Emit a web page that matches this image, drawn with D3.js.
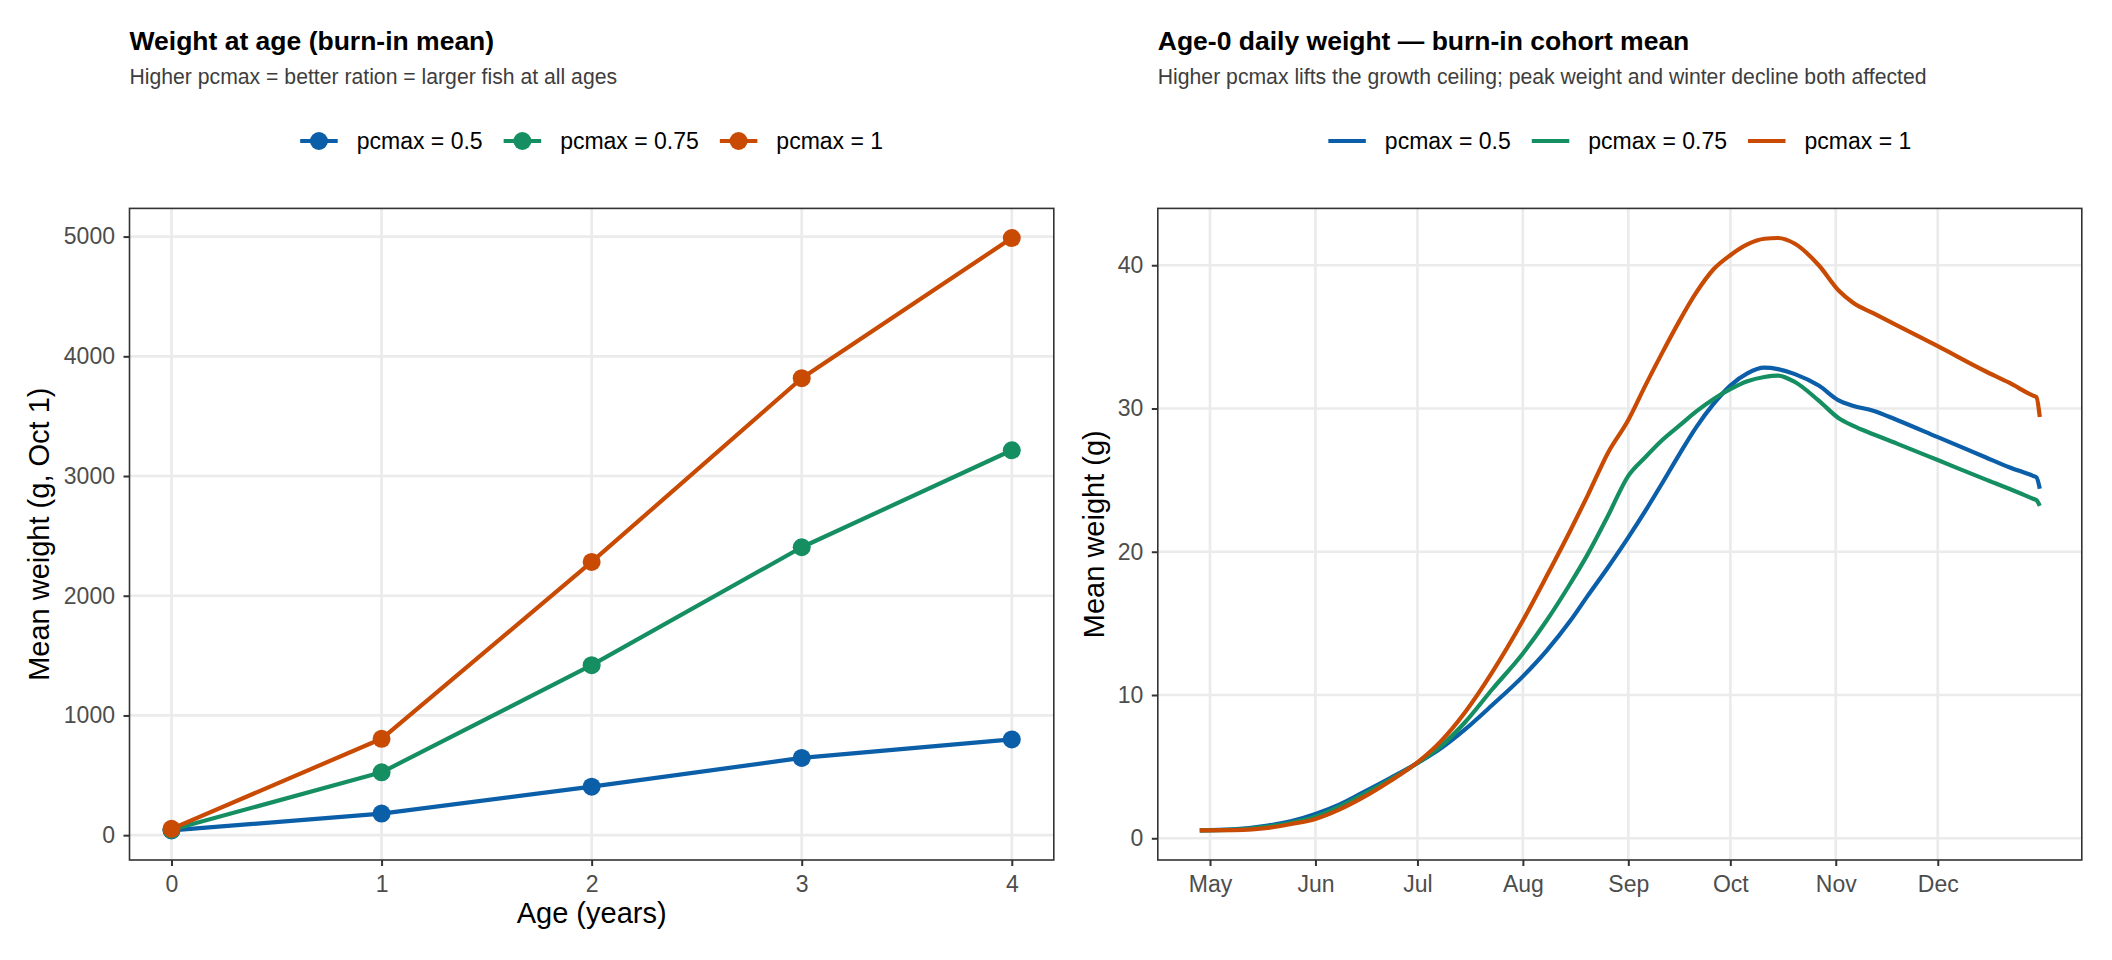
<!DOCTYPE html>
<html>
<head>
<meta charset="utf-8">
<script src="https://cdn.jsdelivr.net/npm/d3@7/dist/d3.min.js"></script>
<style>
  html, body { margin: 0; padding: 0; background: #ffffff; }
  svg { display: block; font-family: "Liberation Sans", Arial, Helvetica, sans-serif; }
</style>
</head>
<body>
<svg id="chart" width="2112" height="960"></svg>
<script>
// ---------------- DATA ----------------
const seriesNames = ["pcmax = 0.5", "pcmax = 0.75", "pcmax = 1"];
const seriesColors = ["#0b5ea8", "#158f62", "#c84a03"];

// Left panel: weight at age (g, Oct 1)
const ages = [0, 1, 2, 3, 4];
const wtAge05 = [40, 180, 405, 645, 800];
const wtAge075 = [45, 525, 1420, 2405, 3215];
const wtAge1 = [53, 805, 2282, 3817, 4988];
const ageTicks = [0, 1, 2, 3, 4];
const wtTicks = [0, 1000, 2000, 3000, 4000, 5000];

// Right panel: age-0 daily weight (g)
const dayDates = ["2023-04-28","2023-05-08","2023-05-18","2023-05-25","2023-06-01","2023-06-08","2023-06-15","2023-06-23",
  "2023-07-01","2023-07-08","2023-07-15","2023-07-23","2023-08-01","2023-08-08","2023-08-15","2023-08-20","2023-08-26",
  "2023-09-01","2023-09-06","2023-09-11","2023-09-16","2023-09-21","2023-09-26","2023-10-01","2023-10-06","2023-10-11",
  "2023-10-15","2023-10-20","2023-10-27","2023-11-02","2023-11-06","2023-11-12","2023-11-19","2023-12-01","2023-12-15",
  "2023-12-22","2023-12-29","2023-12-30","2023-12-31"];
const daily05 = [0.55,0.62,0.88,1.2,1.7,2.35,3.2,4.2,
  5.25,6.3,7.6,9.3,11.3,13.1,15.2,16.9,18.9,
  21.0,22.85,24.8,26.8,28.7,30.3,31.6,32.45,32.85,
  32.75,32.4,31.6,30.55,30.2,29.85,29.2,28.0,26.6,
  25.9,25.3,25.2,24.4];
const daily075 = [0.55,0.6,0.82,1.1,1.5,2.2,3.05,4.1,
  5.25,6.45,8.1,10.4,12.9,15.2,17.8,19.8,22.5,
  25.3,26.6,27.8,28.8,29.8,30.65,31.35,31.9,32.2,
  32.3,31.85,30.55,29.3,28.8,28.2,27.55,26.4,25.05,
  24.4,23.7,23.6,23.2];
const daily1 = [0.55,0.57,0.72,1.0,1.35,2.0,2.85,4.0,
  5.3,6.8,8.8,11.6,15.2,18.3,21.5,23.9,26.9,
  29.2,31.6,33.9,36.1,38.1,39.7,40.7,41.45,41.85,
  41.9,41.5,40.0,38.2,37.4,36.65,35.8,34.35,32.6,
  31.8,30.9,30.8,29.4];
const monthTicks = ["2023-05-01","2023-06-01","2023-07-01","2023-08-01","2023-09-01","2023-10-01","2023-11-01","2023-12-01"];
const dailyTicks = [0, 10, 20, 30, 40];

// ---------------- LAYOUT ----------------
const svg = d3.select("#chart");
const panelTop = 208.4, panelBottom = 860;
const leftP = { x0: 129.5, x1: 1053.8 };
const rightP = { x0: 1157.8, x1: 2081.8 };
const TICK_FONT = 23, AXIS_TITLE_FONT = 29, LEG_FONT = 23;
const LINE_W = 4.2, PT_R = 9;

function expand(lo, hi) { const d = (hi - lo) * 0.05; return [lo - d, hi + d]; }

const parse = d3.utcParse("%Y-%m-%d");

// Left scales
const xAge = d3.scaleLinear().domain(expand(d3.min(ages), d3.max(ages))).range([leftP.x0, leftP.x1]);
const allAge = wtAge05.concat(wtAge075, wtAge1);
const yAge = d3.scaleLinear().domain(expand(d3.min(allAge), d3.max(allAge))).range([panelBottom, panelTop]);

// Right scales
const dates = dayDates.map(parse);
const tMin = d3.min(dates), tMax = d3.max(dates);
const tPad = (tMax - tMin) * 0.05;
const xDay = d3.scaleUtc().domain([new Date(+tMin - tPad), new Date(+tMax + tPad)]).range([rightP.x0, rightP.x1]);
const allDay = daily05.concat(daily075, daily1);
const yDay = d3.scaleLinear().domain(expand(d3.min(allDay), d3.max(allDay))).range([panelBottom, panelTop]);

function drawPanel(P, xScale, yScale, xTicks, yTicks, xFmt) {
  const g = svg.append("g");
  g.append("rect").attr("x", P.x0).attr("y", panelTop).attr("width", P.x1 - P.x0).attr("height", panelBottom - panelTop).attr("fill", "#ffffff");
  g.selectAll(".gy").data(yTicks).enter().append("line")
    .attr("x1", P.x0).attr("x2", P.x1).attr("y1", d => yScale(d)).attr("y2", d => yScale(d))
    .attr("stroke", "#EBEBEB").attr("stroke-width", 2.7);
  g.selectAll(".gx").data(xTicks).enter().append("line")
    .attr("y1", panelTop).attr("y2", panelBottom).attr("x1", d => xScale(d)).attr("x2", d => xScale(d))
    .attr("stroke", "#EBEBEB").attr("stroke-width", 2.7);
  const ax = g.append("g").attr("transform", `translate(0,${panelBottom})`)
    .call(d3.axisBottom(xScale).tickValues(xTicks).tickFormat(xFmt).tickSize(6).tickSizeOuter(0).tickPadding(10));
  const ay = g.append("g").attr("transform", `translate(${P.x0},0)`)
    .call(d3.axisLeft(yScale).tickValues(yTicks).tickFormat(d3.format("d")).tickSize(6).tickSizeOuter(0).tickPadding(8.5));
  [ax, ay].forEach(a => {
    a.select(".domain").remove();
    a.selectAll(".tick line").attr("stroke", "#333333").attr("stroke-width", 2);
    a.selectAll(".tick text").attr("fill", "#4d4d4d").style("font-size", TICK_FONT + "px")
      .style("font-family", '"Liberation Sans", Arial, sans-serif');
  });
  return g;
}

function drawBorder(P) {
  svg.append("rect").attr("x", P.x0).attr("y", panelTop).attr("width", P.x1 - P.x0).attr("height", panelBottom - panelTop)
    .attr("fill", "none").attr("stroke", "#333333").attr("stroke-width", 1.6);
}

// ---------- LEFT PANEL ----------
drawPanel(leftP, xAge, yAge, ageTicks, wtTicks, d3.format("d"));
const ageSeries = [wtAge05, wtAge075, wtAge1];
const lineAge = d3.line().x((d, i) => xAge(ages[i])).y(d => yAge(d));
ageSeries.forEach((s, k) => {
  svg.append("path").attr("d", lineAge(s)).attr("fill", "none")
    .attr("stroke", seriesColors[k]).attr("stroke-width", LINE_W).attr("stroke-linejoin", "round").attr("stroke-linecap", "butt");
});
ageSeries.forEach((s, k) => {
  svg.append("g").selectAll("circle").data(s).enter().append("circle")
    .attr("cx", (d, i) => xAge(ages[i])).attr("cy", d => yAge(d)).attr("r", PT_R).attr("fill", seriesColors[k]);
});
drawBorder(leftP);

// ---------- RIGHT PANEL ----------
drawPanel(rightP, xDay, yDay, monthTicks.map(parse), dailyTicks, d3.utcFormat("%b"));
const daySeries = [daily05, daily075, daily1];
const lineDay = d3.line().curve(d3.curveMonotoneX).x((d, i) => xDay(dates[i])).y(d => yDay(d));
daySeries.forEach((s, k) => {
  svg.append("path").attr("d", lineDay(s)).attr("fill", "none")
    .attr("stroke", seriesColors[k]).attr("stroke-width", LINE_W).attr("stroke-linejoin", "round");
});
drawBorder(rightP);

// ---------- TITLES ----------
function titles(P, title, sub) {
  svg.append("text").attr("x", P.x0).attr("y", 50).text(title)
    .style("font-size", "26.5px").style("font-weight", "bold").attr("fill", "#000");
  svg.append("text").attr("x", P.x0).attr("y", 84).text(sub)
    .style("font-size", "21.2px").attr("fill", "#3d3d3d");
}
titles(leftP, "Weight at age (burn-in mean)", "Higher pcmax = better ration = larger fish at all ages");
titles(rightP, "Age-0 daily weight \u2014 burn-in cohort mean", "Higher pcmax lifts the growth ceiling; peak weight and winter decline both affected");

// axis titles
svg.append("text").attr("x", (leftP.x0 + leftP.x1) / 2).attr("y", 923).attr("text-anchor", "middle")
  .style("font-size", AXIS_TITLE_FONT + "px").attr("fill", "#000").text("Age (years)");
svg.append("text").attr("transform", `translate(48.5,${(panelTop + panelBottom) / 2}) rotate(-90)`).attr("text-anchor", "middle")
  .style("font-size", AXIS_TITLE_FONT + "px").attr("fill", "#000").text("Mean weight (g, Oct 1)");
svg.append("text").attr("transform", `translate(1104,${(panelTop + panelBottom) / 2}) rotate(-90)`).attr("text-anchor", "middle")
  .style("font-size", AXIS_TITLE_FONT + "px").attr("fill", "#000").text("Mean weight (g)");

// ---------- LEGENDS ----------
function legend(P, withPoints) {
  const keyW = 37.5, gapKT = 19, gapTK = 21, cy = 141;
  const g = svg.append("g");
  const items = seriesNames.map((name, k) => {
    const t = g.append("text").text(name).style("font-size", LEG_FONT + "px").attr("fill", "#000");
    return { t, w: t.node().getComputedTextLength(), k };
  });
  const total = items.reduce((a, it) => a + keyW + gapKT + it.w, 0) + gapTK * (items.length - 1);
  let x = (P.x0 + P.x1) / 2 - total / 2;
  items.forEach(it => {
    g.append("line").attr("x1", x).attr("x2", x + keyW).attr("y1", cy).attr("y2", cy)
      .attr("stroke", seriesColors[it.k]).attr("stroke-width", LINE_W);
    if (withPoints) g.append("circle").attr("cx", x + keyW / 2).attr("cy", cy).attr("r", PT_R).attr("fill", seriesColors[it.k]);
    it.t.attr("x", x + keyW + gapKT).attr("y", cy).attr("dy", "0.35em");
    x += keyW + gapKT + it.w + gapTK;
  });
}
legend(leftP, true);
legend(rightP, false);
</script>
</body>
</html>
